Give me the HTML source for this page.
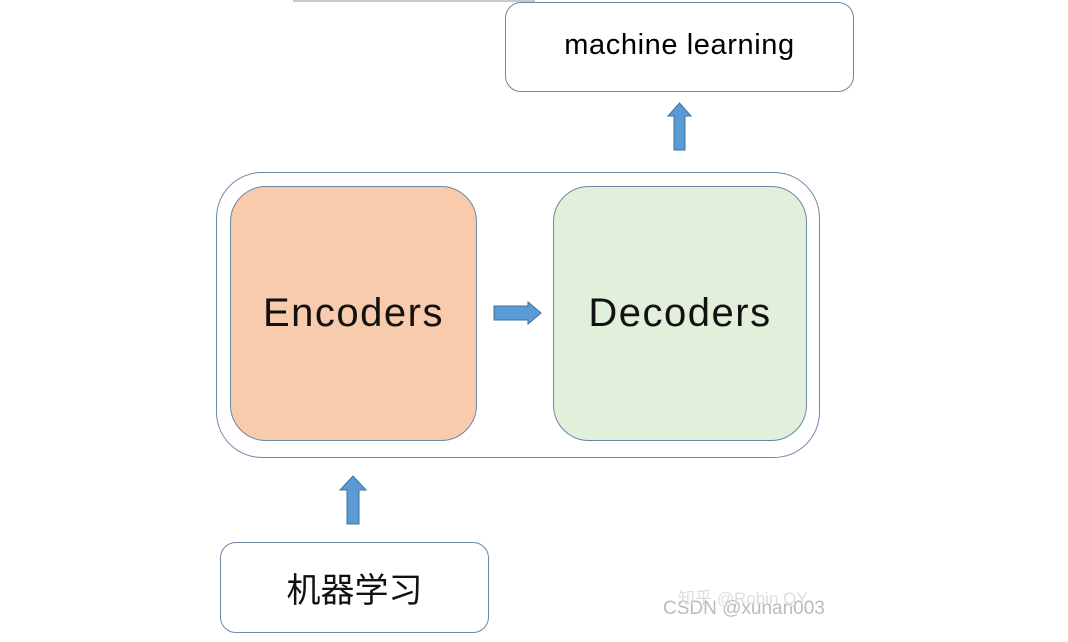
<!DOCTYPE html>
<html><head><meta charset="utf-8"><style>
body{margin:0;width:1068px;height:642px;background:#fff;overflow:hidden;position:relative;font-family:"Liberation Sans","Noto Sans CJK SC",sans-serif}
.b{position:absolute;box-sizing:border-box;border:1.5px solid #6b86a6;display:flex;align-items:center;justify-content:center;color:#111}
</style></head><body>
<div style="position:absolute;left:293px;top:0;width:242px;height:2px;background:#c8c8c8"></div>
<div class="b" style="left:505px;top:2px;width:349px;height:90px;border-radius:16px;font-size:29px;letter-spacing:0.6px;padding-bottom:4px;color:#000">machine learning</div>
<div class="b" style="left:216px;top:172px;width:604px;height:286px;border-radius:46px"></div>
<div class="b" style="left:230px;top:186px;width:247px;height:255px;border-radius:36px;background:#f8cbad;font-size:40px;letter-spacing:1.5px">Encoders</div>
<div class="b" style="left:553px;top:186px;width:254px;height:255px;border-radius:36px;background:#e2efda;font-size:40px;letter-spacing:1.5px">Decoders</div>
<div class="b" style="left:220px;top:542px;width:269px;height:91px;border-radius:16px;font-size:34px;font-family:'Noto Sans CJK SC',sans-serif">机器学习</div>
<svg style="position:absolute;left:0;top:0" width="1068" height="642">
<g fill="#5b9bd5" stroke="#41719c" stroke-width="1">
<polygon points="674,150 685,150 685,116 691,116 679.5,103 668,116 674,116"/>
<polygon points="347,524 359,524 359,490 366,490 353,476 340,490 347,490"/>
<polygon points="494,306 528,306 528,302 541,313 528,324 528,320 494,320"/>
</g>
<text x="663" y="614" font-family="Liberation Sans" font-size="19" fill="#bbb">CSDN @xunan003</text>
<text x="678" y="604" font-family="Liberation Sans, Noto Sans CJK SC" font-size="17" fill="#ddd">知乎 @Robin QY</text>
</svg>
</body></html>
